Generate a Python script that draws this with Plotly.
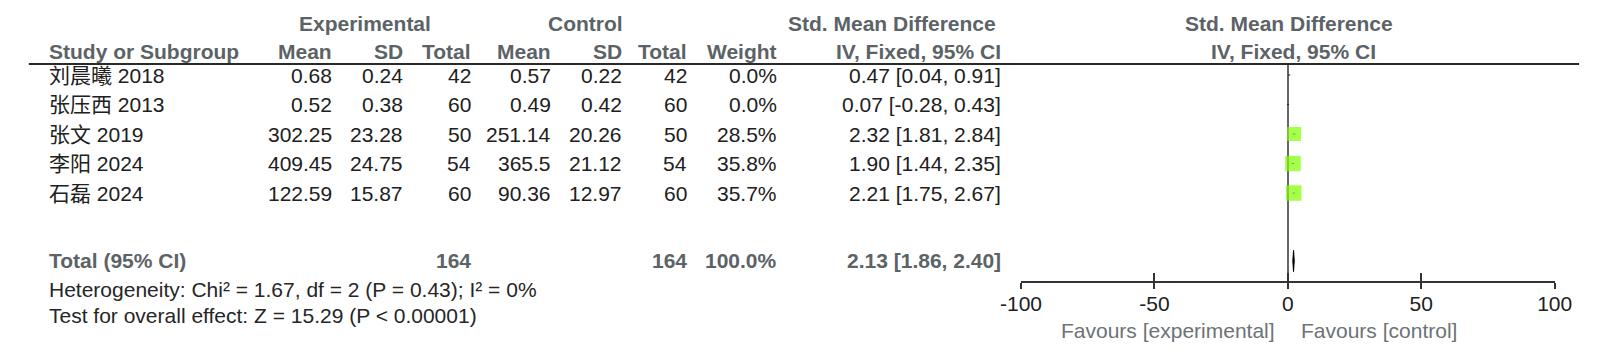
import plotly.graph_objects as go

# ---------------- data ----------------
studies = ["刘晨曦 2018", "张压西 2013", "张文 2019", "李阳 2024", "石磊 2024"]
exp_mean = [0.68, 0.52, 302.25, 409.45, 122.59]
exp_sd = [0.24, 0.38, 23.28, 24.75, 15.87]
exp_n = [42, 60, 50, 54, 60]
ctl_mean = [0.57, 0.49, 251.14, 365.5, 90.36]
ctl_sd = [0.22, 0.42, 20.26, 21.12, 12.97]
ctl_n = [42, 60, 50, 54, 60]
weights = [0.0, 0.0, 28.5, 35.8, 35.7]
smd = [0.47, 0.07, 2.32, 1.90, 2.21]
ci_lo = [0.04, -0.28, 1.81, 1.44, 1.75]
ci_hi = [0.91, 0.43, 2.84, 2.35, 2.67]

total_exp_n = 164
total_ctl_n = 164
total_weight = 100.0
total_smd = 2.13
total_lo = 1.86
total_hi = 2.40

heterogeneity = "Heterogeneity: Chi² = 1.67, df = 2 (P = 0.43); I² = 0%"
overall = "Test for overall effect: Z = 15.29 (P < 0.00001)"
tick_vals = [-100, -50, 0, 50, 100]
tick_text = ["-100", "-50", "0", "50", "100"]
fav_left = "Favours [experimental]"
fav_right = "Favours [control]"

# ---------------- layout constants ----------------
W, H = 1600, 353
FONT = "Liberation Sans, Arial, Helvetica, Noto Sans CJK SC, sans-serif"
FS = 21
HEAD_COL = "#5c6367"
TXT_COL = "#202020"
GREEN = "#80ff00"

def px(x):
    return x / W

def py(y):
    return 1 - y / H

row_pos = list(range(len(studies)))
total_pos = 6.3

fig = go.Figure()

# CI lines
fig.add_trace(go.Scatter(
    x=smd, y=row_pos, mode="markers",
    marker=dict(size=1, color="rgba(0,0,0,0)"),
    error_x=dict(type="data", symmetric=False,
                 array=[h - m for h, m in zip(ci_hi, smd)],
                 arrayminus=[m - l for m, l in zip(smd, ci_lo)],
                 color="#222", thickness=1, width=0),
    hoverinfo="skip", showlegend=False, xaxis="x", yaxis="y"))

# weighted squares
sx = [m for m, w in zip(smd, weights) if w > 0]
sy = [r for r, w in zip(row_pos, weights) if w > 0]
ss = [2.6 * (w ** 0.5) for w in weights if w > 0]
fig.add_trace(go.Scatter(
    x=sx, y=sy, mode="markers",
    marker=dict(symbol="square", size=ss, color=GREEN, line=dict(width=0)),
    hoverinfo="skip", showlegend=False, xaxis="x", yaxis="y"))

# diamond
dh = 0.36
fig.add_trace(go.Scatter(
    x=[total_lo, total_smd, total_hi, total_smd, total_lo],
    y=[total_pos, total_pos - dh, total_pos, total_pos + dh, total_pos],
    mode="lines", fill="toself", fillcolor="black",
    line=dict(color="black", width=1),
    hoverinfo="skip", showlegend=False, xaxis="x", yaxis="y"))

# invisible trace on overlay axis for inner ticks
fig.add_trace(go.Scatter(x=[tick_vals[0]], y=[total_pos], mode="markers",
                         marker=dict(size=1, color="rgba(0,0,0,0)"),
                         hoverinfo="skip", showlegend=False,
                         xaxis="x2", yaxis="y"))

ann = []

def add(text, x, y, xanchor="right", yref="y", bold=False, color=TXT_COL, size=FS):
    ann.append(dict(
        text=f"<b>{text}</b>" if bold else text,
        x=px(x), xref="paper", y=y, yref=yref,
        xanchor=xanchor, yanchor="middle", showarrow=False,
        font=dict(family=FONT, size=size, color=color)))

# headers
HY1 = py(23.5)
HY2 = py(52)
add("Experimental", 353, HY1, "center", "paper", True, HEAD_COL)
add("Control", 579, HY1, "center", "paper", True, HEAD_COL)
add("Std. Mean Difference", 893, HY1, "center", "paper", True, HEAD_COL)
add("Std. Mean Difference", 1300, HY1, "center", "paper", True, HEAD_COL)

cols = [321, 394, 463, 545, 618, 685, 777, 1007]
add("Study or Subgroup", 27, HY2, "left", "paper", True, HEAD_COL)
for t, x in zip(["Mean", "SD", "Total", "Mean", "SD", "Total", "Weight",
                 "IV, Fixed, 95% CI"], cols):
    add(t, x, HY2, "right", "paper", True, HEAD_COL)
add("IV, Fixed, 95% CI", 1304, HY2, "center", "paper", True, HEAD_COL)

# study rows
for i, s in enumerate(studies):
    r = row_pos[i]
    add(s, 27, r, "left")
    vals = [str(exp_mean[i]), str(exp_sd[i]), str(exp_n[i]),
            str(ctl_mean[i]), str(ctl_sd[i]), str(ctl_n[i]),
            f"{weights[i]:.1f}%",
            f"{smd[i]:.2f} [{ci_lo[i]:.2f}, {ci_hi[i]:.2f}]"]
    for v, x in zip(vals, cols):
        add(v, x, r, "right")

# total row
add("Total (95% CI)", 27, total_pos, "left", "y", True, HEAD_COL)
add(str(total_exp_n), cols[2], total_pos, "right", "y", True, HEAD_COL)
add(str(total_ctl_n), cols[5], total_pos, "right", "y", True, HEAD_COL)
add(f"{total_weight:.1f}%", cols[6], total_pos, "right", "y", True, HEAD_COL)
add(f"{total_smd:.2f} [{total_lo:.2f}, {total_hi:.2f}]", cols[7], total_pos,
    "right", "y", True, HEAD_COL)

# footer
add(heterogeneity, 27, py(289), "left", "paper", False, "#262626")
add(overall, 27, py(315), "left", "paper", False, "#262626")
add(fav_left, 1287, py(330), "right", "paper", False, "#6c7276")
add(fav_right, 1310, py(330), "left", "paper", False, "#6c7276")

x_dom = [px(1025), px(1572)]
y_dom = [py(281), py(64)]

fig.update_layout(
    width=W, height=H,
    margin=dict(l=0, r=0, t=0, b=0),
    paper_bgcolor="white", plot_bgcolor="white",
    annotations=ann,
    shapes=[dict(type="line", xref="paper", yref="paper",
                 x0=px(8), x1=px(1597), y0=py(64), y1=py(64),
                 line=dict(color="#2a2a2a", width=2))],
    xaxis=dict(domain=x_dom, range=[-100, 100], anchor="y",
               tickvals=tick_vals, ticktext=tick_text,
               ticks="outside", ticklen=6, tickwidth=2, tickcolor="#333",
               showline=True, linecolor="#333", linewidth=2,
               showgrid=False, zeroline=True, zerolinecolor="#666",
               zerolinewidth=2, ticklabelstandoff=-3,
               tickfont=dict(family=FONT, size=FS, color=TXT_COL),
               fixedrange=True),
    xaxis2=dict(domain=x_dom, range=[-100, 100], anchor="y",
                overlaying="x", side="bottom",
                tickvals=tick_vals, showticklabels=False,
                ticks="inside", ticklen=8, tickwidth=2, tickcolor="#333",
                showline=False, showgrid=False, zeroline=False),
    yaxis=dict(domain=y_dom, range=[6.98, -0.373], visible=False,
               showgrid=False, zeroline=False, fixedrange=True),
)

fig.write_html(
    "out.html",
    config={"displayModeBar": False},
    post_script="document.body.style.margin='0px';"
                "document.body.style.overflow='hidden';",
)
